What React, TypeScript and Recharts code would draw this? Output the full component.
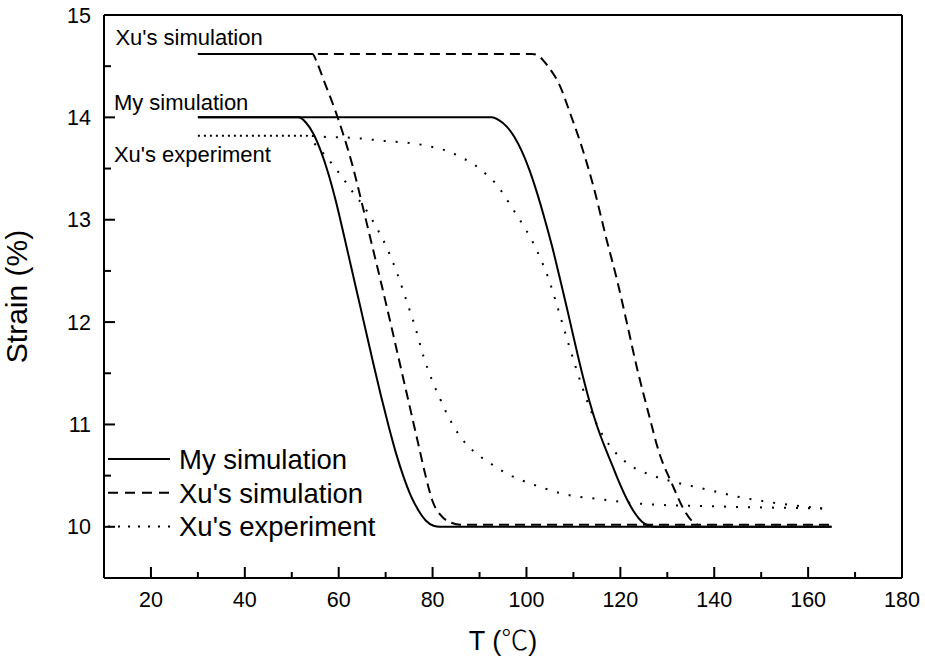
import { LineChart, Line, XAxis, YAxis, ReferenceLine, ReferenceDot, Legend } from "recharts";

const FONT = "Arial, 'Liberation Sans', sans-serif";

const xTicks = [20, 30, 40, 50, 60, 70, 80, 90, 100, 110, 120, 130, 140, 150, 160, 170, 180];
const yTicks = [10, 10.5, 11, 11.5, 12, 12.5, 13, 13.5, 14, 14.5, 15];

// My simulation
const myLowT = [30, 51.4, 53.0, 54.6, 56.2, 57.8, 59.4, 61.0, 62.6, 64.2, 65.8, 67.4, 69.0, 70.6, 72.2, 73.8, 75.4, 77.0, 78.6, 80.2, 81.5, 165];
const myLowStrain = [14, 14, 13.95, 13.84, 13.67, 13.45, 13.18, 12.87, 12.55, 12.23, 11.91, 11.59, 11.28, 10.99, 10.72, 10.49, 10.3, 10.16, 10.06, 10.01, 10.0, 10.0];
const myHighT = [30, 92.6, 94.2, 95.8, 97.4, 99.0, 100.6, 102.2, 103.8, 105.4, 107.0, 108.6, 110.2, 111.8, 113.4, 115.0, 116.6, 118.2, 119.8, 121.4, 123.0, 124.6, 126.2, 127.2, 165];
const myHighStrain = [14, 14, 13.97, 13.91, 13.81, 13.67, 13.49, 13.27, 13.02, 12.75, 12.45, 12.14, 11.82, 11.51, 11.23, 10.99, 10.79, 10.61, 10.43, 10.27, 10.14, 10.05, 10.01, 10.0, 10.0];

// Xu's simulation
const xuSimLowT = [30, 54.4, 55.5, 57.0, 59.0, 61.0, 63.0, 65.0, 67.0, 69.0, 71.0, 73.0, 75.0, 77.0, 78.5, 80.0, 82.0, 84.0, 86.0, 165];
const xuSimLowStrain = [14.62, 14.62, 14.52, 14.34, 14.1, 13.83, 13.52, 13.15, 12.77, 12.39, 12.0, 11.6, 11.2, 10.8, 10.5, 10.25, 10.1, 10.04, 10.02, 10.02];
const xuSimHighT = [30, 101.2, 102.2, 104.4, 107.2, 109.3, 111.8, 114.3, 117.1, 119.3, 121.4, 123.5, 126.0, 128.3, 131.0, 133.4, 135.2, 136.5];
const xuSimHighStrain = [14.62, 14.62, 14.61, 14.51, 14.3, 14.04, 13.71, 13.32, 12.8, 12.41, 11.99, 11.56, 11.11, 10.72, 10.42, 10.18, 10.06, 10.02];

// Xu's experiment
const xuExpLowT = [30, 53.2, 54.5, 56.5, 58.5, 60.5, 63.0, 65.5, 68.0, 70.5, 72.5, 74.5, 76.3, 78.1, 79.9, 81.6, 83.1, 85.9, 88.7, 92.3, 95.8, 98.7, 102.9, 108.0, 115.6, 126.0, 140.0, 163.0];
const xuExpLowStrain = [13.82, 13.82, 13.76, 13.66, 13.55, 13.43, 13.27, 13.12, 12.93, 12.7, 12.47, 12.2, 11.95, 11.66, 11.43, 11.25, 11.1, 10.88, 10.74, 10.62, 10.52, 10.46, 10.39, 10.32, 10.27, 10.22, 10.2, 10.18];
const xuExpHighT = [30, 53.2, 56.8, 63.0, 69.6, 76.7, 80.0, 83.8, 86.5, 89.4, 91.5, 93.7, 95.5, 97.3, 99.1, 100.9, 102.7, 104.5, 106.0, 107.5, 109.0, 110.5, 112.0, 113.5, 115.0, 116.6, 118.5, 122.1, 126.3, 131.3, 137.0, 145.5, 152.0, 157.0, 163.0];
const xuExpHighStrain = [13.82, 13.82, 13.81, 13.8, 13.77, 13.74, 13.71, 13.66, 13.6, 13.52, 13.44, 13.34, 13.22, 13.09, 12.96, 12.82, 12.65, 12.45, 12.24, 12.01, 11.78, 11.56, 11.35, 11.16, 11.0, 10.87, 10.75, 10.6, 10.51, 10.44, 10.38, 10.29, 10.24, 10.21, 10.18];

const toPoints = (t: number[], s: number[]) => t.map((T, i) => ({ T, strain: s[i] }));

const series = [
  { name: "My simulation", low: toPoints(myLowT, myLowStrain), high: toPoints(myHighT, myHighStrain), dash: undefined, shift: 0, legendDash: undefined, dx: -84, dy: -7.5 },
  { name: "Xu's simulation", low: toPoints(xuSimLowT, xuSimLowStrain), high: toPoints(xuSimHighT, xuSimHighStrain), dash: "10 6", shift: 8, legendDash: "10 7", dx: -82.5, dy: -8.4 },
  { name: "Xu's experiment", low: toPoints(xuExpLowT, xuExpLowStrain), high: toPoints(xuExpHighT, xuExpHighStrain), dash: "2 10", shift: 6, legendDash: "2 8", dx: -84, dy: 25.8 },
];

const XTick = ({ x, y, payload }: any) => {
  const major = payload.value % 20 === 0;
  return (
    <g>
      <line x1={x} x2={x} y1={y} y2={y - (major ? 11 : 6)} stroke="#000" strokeWidth={2} />
      {major && (
        <text x={x} y={y + 29} textAnchor="middle" fontSize={21.5} fontFamily={FONT} fill="#000">
          {payload.value}
        </text>
      )}
    </g>
  );
};

const YTick = ({ x, y, payload }: any) => {
  const major = Number.isInteger(payload.value);
  return (
    <g>
      <line x1={x} x2={x + (major ? 11 : 7)} y1={y} y2={y} stroke="#000" strokeWidth={2} />
      {major && (
        <text x={x - 13} y={y + 7.5} textAnchor="end" fontSize={21.5} fontFamily={FONT} fill="#000">
          {payload.value}
        </text>
      )}
    </g>
  );
};

const LegendBox = () => (
  <svg width={300} height={110} style={{ overflow: "visible" }}>
    {series.map((s, i) => (
      <g key={s.name}>
        <line x1={4} x2={66} y1={19 + i * 33.7} y2={19 + i * 33.7} stroke="#000" strokeWidth={2} strokeDasharray={s.legendDash} />
        <text x={75} y={29 + i * 33.7} fontSize={27.5} fontFamily={FONT} fill="#000">
          {s.name}
        </text>
      </g>
    ))}
  </svg>
);

export default function App() {
  return (
    <div style={{ position: "absolute", left: 0, top: 0, background: "#fff" }}>
      <LineChart width={925} height={662} margin={{ top: 15, right: 23, bottom: 0, left: 0 }}>
        <XAxis
          type="number"
          dataKey="T"
          domain={[10, 180]}
          ticks={xTicks}
          interval={0}
          height={84}
          tickSize={0}
          tickMargin={0}
          tickLine={false}
          axisLine={{ stroke: "#000", strokeWidth: 2 }}
          tick={<XTick />}
          label={(p: any) => (
            <text x={p.viewBox.x + p.viewBox.width / 2} y={p.viewBox.y + 72} textAnchor="middle" fontSize={27} fontFamily={FONT} fill="#000">
              T (<tspan fontFamily="'Noto Sans CJK SC'" fontWeight={300}>℃</tspan>)
            </text>
          )}
        />
        <YAxis
          type="number"
          dataKey="strain"
          domain={[9.5, 15]}
          ticks={yTicks}
          interval={0}
          width={104}
          tickSize={0}
          tickMargin={0}
          tickLine={false}
          axisLine={{ stroke: "#000", strokeWidth: 2 }}
          tick={<YTick />}
          label={(p: any) => {
            const cy = p.viewBox.y + p.viewBox.height / 2;
            return (
              <text x={27} y={cy} transform={`rotate(-90, 27, ${cy})`} textAnchor="middle" fontSize={30} fontFamily={FONT} fill="#000">
                Strain (%)
              </text>
            );
          }}
        />
        <ReferenceLine y={15} stroke="#000" strokeWidth={2} />
        <ReferenceLine x={180} stroke="#000" strokeWidth={2} />
        {series.map((s) => (
          <Line
            key={s.name + "-low"}
            data={s.low}
            dataKey="strain"
            name={s.name}
            type="monotone"
            stroke="#000"
            strokeWidth={2}
            strokeDasharray={s.dash}
            dot={false}
            activeDot={false}
            isAnimationActive={false}
          />
        ))}
        {series.map((s) => (
          <Line
            key={s.name + "-high"}
            data={s.high}
            dataKey="strain"
            name={s.name}
            type="monotone"
            stroke="#000"
            strokeWidth={2}
            strokeDasharray={s.dash}
            strokeDashoffset={s.shift}
            dot={false}
            activeDot={false}
            legendType="none"
            isAnimationActive={false}
          />
        ))}
        {series.map((s) => (
          <ReferenceDot
            key={s.name + "-label"}
            x={s.low[0].T}
            y={s.low[0].strain}
            r={0}
            fill="none"
            stroke="none"
            label={(p: any) => (
              <text x={p.viewBox.x + s.dx} y={p.viewBox.y + s.dy} fontSize={22} fontFamily={FONT} fill="#000">
                {s.name}
              </text>
            )}
          />
        ))}
        <Legend
          content={<LegendBox />}
          wrapperStyle={{ position: "absolute", left: 104, top: 440, width: 0, height: 0, overflow: "visible" }}
        />
      </LineChart>
    </div>
  );
}
